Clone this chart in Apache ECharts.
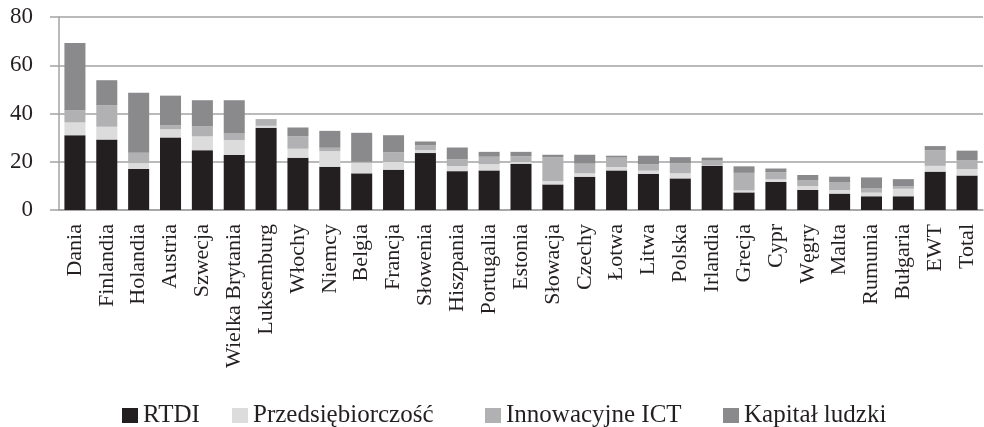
<!DOCTYPE html>
<html lang="pl">
<head>
    <meta charset="UTF-8">
    <title>Wskaźniki - wykres</title>
    <script src="https://cdn.jsdelivr.net/npm/echarts@6/dist/echarts.min.js"></script>
    <style>
        html, body { margin: 0; padding: 0; background: #fff; }
        #main { width: 984px; height: 427px; }
    </style>
</head>
<body>
    <div id="main"></div>
    <script type="text/javascript">
        // kraje
        const kraje = ['Dania', 'Finlandia', 'Holandia', 'Austria', 'Szwecja', 'Wielka Brytania',
            'Luksemburg', 'Włochy', 'Niemcy', 'Belgia', 'Francja', 'Słowenia', 'Hiszpania',
            'Portugalia', 'Estonia', 'Słowacja', 'Czechy', 'Łotwa', 'Litwa', 'Polska', 'Irlandia',
            'Grecja', 'Cypr', 'Węgry', 'Malta', 'Rumunia', 'Bułgaria', 'EWT', 'Total'];

        const rtdi = [31.0, 29.2, 17.0, 30.1, 24.8, 22.8, 34.1, 21.7, 17.9, 15.2, 16.7, 23.6, 16.1,
            16.4, 19.2, 10.6, 13.8, 16.4, 15.0, 13.1, 18.3, 7.3, 11.6, 8.3, 6.8, 5.7, 5.7, 15.9, 14.3];
        const przedsiebiorczosc = [5.3, 5.3, 2.4, 3.4, 5.7, 6.2, 0.8, 3.7, 6.5, 4.4, 3.2, 1.2, 2.1,
            2.6, 0.7, 1.4, 1.4, 1.4, 1.3, 2.1, 0.2, 0.8, 1.1, 1.6, 1.5, 1.5, 3.1, 2.4, 2.7];
        const ict = [4.9, 8.9, 4.3, 1.7, 4.3, 2.7, 2.8, 5.2, 1.4, 0.4, 4.1, 2.1, 2.8,
            3.1, 2.4, 9.9, 4.0, 3.9, 2.7, 4.2, 2.0, 7.3, 3.0, 2.5, 3.3, 1.9, 1.0, 6.5, 3.7];
        const kapital = [28.0, 10.4, 24.9, 12.2, 10.7, 13.8, 0, 3.6, 7.0, 12.0, 7.0, 1.5, 4.9,
            2.0, 1.8, 1.0, 3.7, 0.8, 3.5, 2.5, 1.2, 2.7, 1.5, 2.1, 2.2, 4.4, 3.0, 1.7, 3.9];

        const nazwy = ['RTDI', 'Przedsiębiorczość', 'Innowacyjne ICT', 'Kapitał ludzki'];

        const font = "'Liberation Serif', 'Times New Roman', serif";
        const szary = '#a3a3a3';

        var wykres = echarts.init(document.getElementById('main'));

        function seria(nazwa, dane, kolor) {
            return {
                name: nazwa,
                type: 'bar',
                stack: 'suma',
                barCategoryGap: '34%',
                data: dane,
                itemStyle: { color: kolor }
            };
        }

        // osobna legenda dla kazdej pozycji, zeby odstepy byly jak w oryginale
        const legendLeft = [117, 227, 480, 718];
        const legendy = nazwy.map((n, i) => ({
            top: 398,
            left: legendLeft[i],
            itemWidth: 16,
            itemHeight: 15,
            icon: 'rect',
            textStyle: { fontFamily: font, fontSize: 25, color: '#231f20' },
            data: [n]
        }));

        var option = {
            animation: false,
            grid: { left: 59, right: 1, top: 17, bottom: 217 },
            legend: legendy,
            xAxis: {
                type: 'category',
                data: kraje,
                axisLine: { lineStyle: { color: szary, width: 1.5 } },
                axisTick: { length: 6, lineStyle: { color: szary, width: 1.5 } },
                axisLabel: {
                    rotate: 90,
                    interval: 0,
                    margin: 14,
                    fontFamily: font,
                    fontSize: 22,
                    color: '#231f20'
                }
            },
            yAxis: {
                type: 'value',
                min: 0,
                max: 80,
                interval: 20,
                axisLine: { show: true, lineStyle: { color: szary, width: 1.5 } },
                axisTick: { show: true, length: 9, lineStyle: { color: szary, width: 1.5 } },
                splitLine: { lineStyle: { color: szary, width: 1.5 } },
                axisLabel: {
                    margin: 26,
                    fontFamily: font,
                    fontSize: 23,
                    color: '#231f20'
                }
            },
            series: [
                seria(nazwy[0], rtdi, '#231f20'),
                seria(nazwy[1], przedsiebiorczosc, '#dcdcdd'),
                seria(nazwy[2], ict, '#b1b1b3'),
                seria(nazwy[3], kapital, '#8a8a8c')
            ]
        };
        wykres.setOption(option);
    </script>
</body>
</html>
